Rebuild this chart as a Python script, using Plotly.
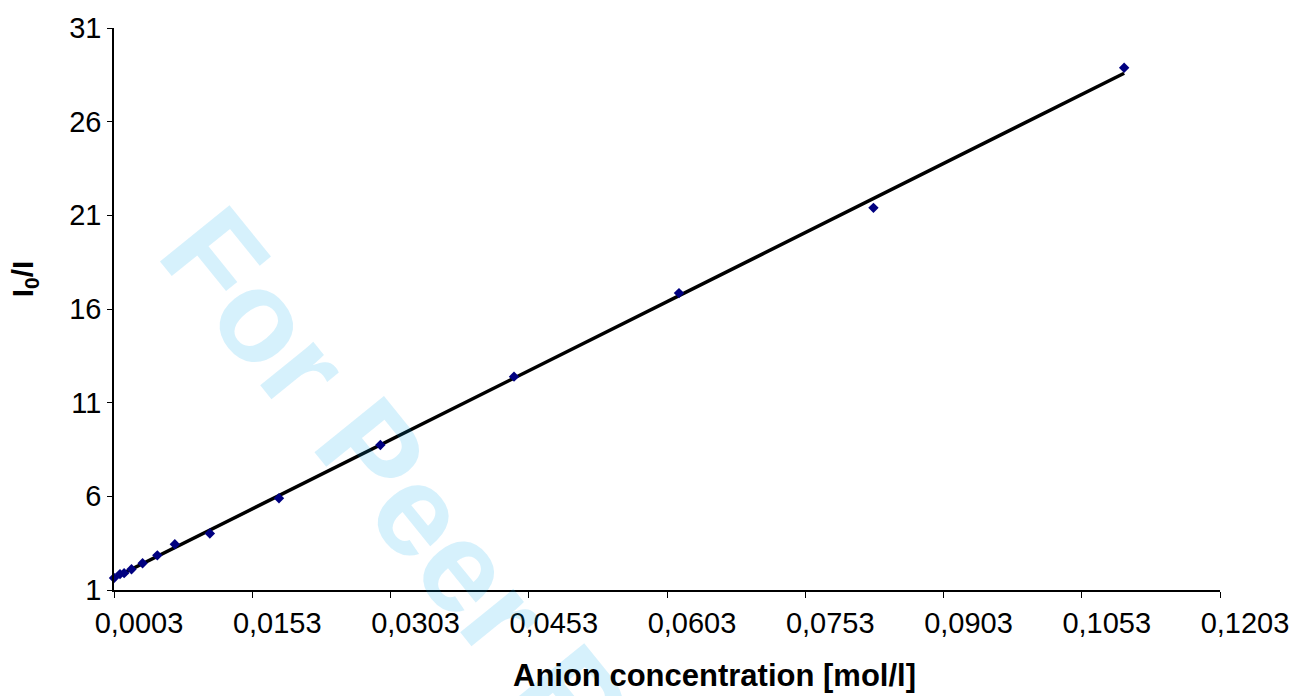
import numpy as np
import plotly.graph_objects as go

# Data
conc = [0.0003, 0.00095, 0.0014, 0.0022, 0.0034, 0.0050, 0.0069, 0.0107,
        0.0182, 0.0292, 0.0437, 0.0616, 0.0827, 0.1099]
ratio = [1.64, 1.85, 1.90, 2.11, 2.43, 2.85, 3.44, 4.02,
         5.90, 8.74, 12.39, 16.85, 21.40, 28.88]

x_ticks = [0.0003, 0.0153, 0.0303, 0.0453, 0.0603, 0.0753, 0.0903, 0.1053, 0.1203]
x_tick_labels = ["0,0003", "0,0153", "0,0303", "0,0453", "0,0603",
                 "0,0753", "0,0903", "0,1053", "0,1203"]
y_ticks = [1, 6, 11, 16, 21, 26, 31]

# Linear trendline (least squares) over data range
slope, intercept = np.polyfit(conc, ratio, 1)
fit_x = [min(conc), max(conc)]
fit_y = [slope * v + intercept for v in fit_x]

FONT = "Liberation Sans, Arial, Helvetica, sans-serif"

fig = go.Figure()
fig.add_trace(go.Scatter(
    x=fit_x, y=fit_y, mode="lines",
    line=dict(color="black", width=3.5),
    showlegend=False, hoverinfo="skip"))
fig.add_trace(go.Scatter(
    x=conc, y=ratio, mode="markers",
    marker=dict(symbol="diamond", size=8, color="#000080"),
    showlegend=False, cliponaxis=False))

fig.update_layout(
    width=1301, height=696,
    margin=dict(l=114, r=79, t=24, b=106),
    plot_bgcolor="white", paper_bgcolor="white",
    font=dict(family=FONT, color="black"),
    xaxis=dict(range=[0.0003, 0.1203], tickvals=x_ticks, ticktext=x_tick_labels,
               showgrid=False, zeroline=False, showline=True, linecolor="black",
               linewidth=1.5, ticks="outside", ticklen=6, tickwidth=1.2,
               tickcolor="black", tickfont=dict(size=29, family=FONT),
               ticklabelshift=25),
    yaxis=dict(range=[1, 31], tickvals=y_ticks,
               showgrid=False, zeroline=False, showline=True, linecolor="black",
               linewidth=1.5, ticks="outside", ticklen=5, tickwidth=1.2,
               tickcolor="black", tickfont=dict(size=29, family=FONT)),
    annotations=[
        dict(text="<b>For Peer Review</b>", xref="paper", yref="paper",
             x=(509 - 114) / 1108, y=(590 - 620) / 566,
             xanchor="center", yanchor="middle", textangle=51, showarrow=False,
             font=dict(size=130, family=FONT, color="rgba(0,166,235,0.16)")),
        dict(text="<b>Anion concentration [mol/l]</b>", xref="paper", yref="paper",
             x=(716 - 114) / 1108, y=(590 - 676) / 566,
             xanchor="center", yanchor="middle", showarrow=False,
             font=dict(size=31, family=FONT, color="black")),
        dict(text="<b>I<sub>0</sub>/I</b>", xref="paper", yref="paper",
             x=(24 - 114) / 1108, y=(590 - 277) / 566,
             xanchor="center", yanchor="middle", textangle=-90, showarrow=False,
             font=dict(size=30, family=FONT, color="black")),
    ],
)

fig.write_html("out.html")
